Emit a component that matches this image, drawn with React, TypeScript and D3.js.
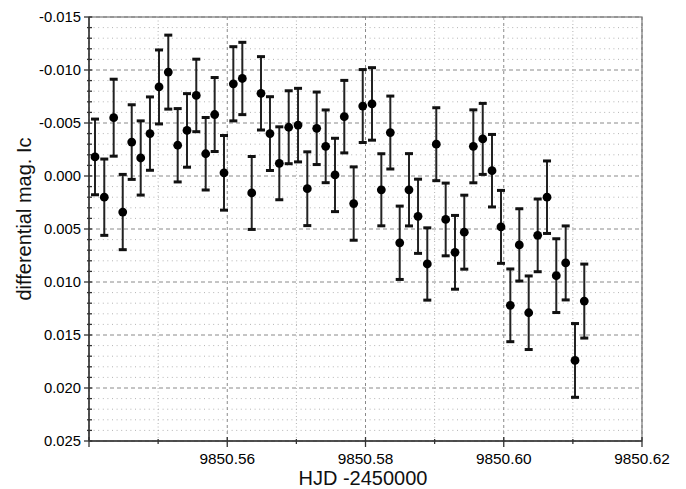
import React from 'react';
import * as d3 from 'd3';

// HJD - 2450000
const hjd = [
  9850.54087, 9850.54221, 9850.54357, 9850.54488, 9850.54618, 9850.54748, 9850.54882, 9850.55013,
  9850.55147, 9850.55283, 9850.55418, 9850.55552, 9850.55688, 9850.55818, 9850.55953, 9850.56088,
  9850.56218, 9850.56354, 9850.56488, 9850.56618, 9850.56753, 9850.56889, 9850.57024, 9850.57158,
  9850.57294, 9850.57424, 9850.57559, 9850.57693, 9850.57829, 9850.5796, 9850.58094, 9850.58229,
  9850.58359, 9850.58495, 9850.58629, 9850.5876, 9850.58894, 9850.59024, 9850.5916, 9850.59295,
  9850.59429, 9850.5956, 9850.59696, 9850.5983, 9850.5996, 9850.60095, 9850.60225, 9850.60361,
  9850.60491, 9850.60626, 9850.6076, 9850.60896, 9850.61031, 9850.61165,
];

// differential magnitude Ic
const mag = [
  -0.0018, 0.002, -0.0055, 0.0034, -0.0032, -0.0017, -0.004, -0.0084,
  -0.0098, -0.0029, -0.0043, -0.0076, -0.0021, -0.0058, -0.0003, -0.0087,
  -0.0092, 0.0016, -0.0078, -0.004, -0.0012, -0.0046, -0.0048, 0.0012,
  -0.0045, -0.0028, -0.0001, -0.0056, 0.0026, -0.0066, -0.0068, 0.0013,
  -0.0041, 0.0063, 0.0013, 0.0038, 0.0083, -0.003, 0.0041, 0.0072,
  0.0053, -0.0028, -0.0035, -0.0005, 0.0048, 0.0122, 0.0065, 0.0129,
  0.0056, 0.002, 0.0094, 0.0082, 0.0174, 0.0118,
];

const magErr = [
  0.00357, 0.0036, 0.00363, 0.00355, 0.00352, 0.0035, 0.00346, 0.00349,
  0.00349, 0.00346, 0.00347, 0.00342, 0.00342, 0.00349, 0.00352, 0.0035,
  0.00341, 0.00344, 0.00346, 0.00348, 0.00344, 0.00344, 0.00347, 0.00348,
  0.00342, 0.00343, 0.00346, 0.00342, 0.00346, 0.00344, 0.00342, 0.0034,
  0.00344, 0.00346, 0.00341, 0.0035, 0.00341, 0.00344, 0.00343, 0.00348,
  0.00349, 0.00344, 0.00335, 0.00342, 0.00344, 0.00343, 0.00341, 0.00347,
  0.00343, 0.00342, 0.00348, 0.00349, 0.00348, 0.00349,
];

const xDomain = [9850.54, 9850.62];
const yDomain = [-0.015, 0.025];
const xLabel = 'HJD -2450000';
const yLabel = 'differential mag. Ic';

const W = 686, H = 489;
const left = 89, right = 642, top = 17, bottom = 441;
const font = '"Liberation Sans", Arial, Helvetica, sans-serif';

export default function App() {
  const x = d3.scaleLinear().domain(xDomain).range([left, right]);
  const y = d3.scaleLinear().domain(yDomain).range([top, bottom]);

  const yMajor = y.ticks(8);
  const yMinor = y.ticks(40).filter((t) => !yMajor.some((m) => Math.abs(m - t) < 1e-9));
  const xMajor = x.ticks(4);
  const xMinor = x.ticks(8).filter((t) => !xMajor.some((m) => Math.abs(m - t) < 1e-9));

  return (
    <svg width={W} height={H} style={{ position: 'absolute', left: 0, top: 0 }} fontFamily={font}>
      <rect x={0} y={0} width={W} height={H} fill="#fff" />

      {/* grid */}
      {yMinor.map((t, i) => (
        <line key={'ym' + i} x1={left} x2={right} y1={y(t)} y2={y(t)} stroke="#b4b4b4" strokeWidth={1} strokeDasharray="1,3.6" />
      ))}
      {yMajor.map((t, i) => (
        <line key={'yM' + i} x1={left} x2={right} y1={y(t)} y2={y(t)} stroke="#8a8a8a" strokeWidth={1} strokeDasharray="4,3" />
      ))}
      {xMinor.map((t, i) => (
        <line key={'xm' + i} x1={x(t)} x2={x(t)} y1={top} y2={bottom} stroke="#b4b4b4" strokeWidth={1} strokeDasharray="1,2.5" />
      ))}
      {xMajor.map((t, i) => (
        <line key={'xM' + i} x1={x(t)} x2={x(t)} y1={top} y2={bottom} stroke="#8a8a8a" strokeWidth={1} strokeDasharray="3,3" />
      ))}

      {/* frame */}
      <rect x={left} y={top} width={right - left} height={bottom - top} fill="none" stroke="#777" strokeWidth={1.2} />
      <line x1={left} x2={left} y1={top} y2={bottom} stroke="#333" strokeWidth={1.5} />
      <line x1={left} x2={right} y1={bottom} y2={bottom} stroke="#333" strokeWidth={1.5} />

      {/* y ticks */}
      {yMinor.map((t, i) => (
        <line key={'yt' + i} x1={left - 2} x2={left + 3} y1={y(t)} y2={y(t)} stroke="#333" strokeWidth={1.3} />
      ))}
      {yMajor.map((t, i) => (
        <g key={'yT' + i}>
          <line x1={left - 5} x2={left + 3} y1={y(t)} y2={y(t)} stroke="#333" strokeWidth={1.3} />
          <text x={81} y={y(t) + 5} textAnchor="end" fontSize={14.8} fill="#000">
            {t.toFixed(3)}
          </text>
        </g>
      ))}

      {/* x ticks */}
      {xMinor.map((t, i) => (
        <line key={'xt' + i} x1={x(t)} x2={x(t)} y1={bottom - 2} y2={bottom + 3} stroke="#333" strokeWidth={1.3} />
      ))}
      {xMajor.map((t, i) => (
        <g key={'xT' + i}>
          <line x1={x(t)} x2={x(t)} y1={bottom - 4} y2={bottom + 6} stroke="#333" strokeWidth={1.3} />
          {i > 0 && (
            <text x={x(t)} y={463.5} textAnchor="middle" fontSize={15.4} fill="#000">
              {t.toFixed(2)}
            </text>
          )}
        </g>
      ))}

      {/* error bars and points */}
      {hjd.map((t, i) => {
        const cx = x(t);
        const y0 = y(mag[i] - magErr[i]);
        const y1 = y(mag[i] + magErr[i]);
        return (
          <g key={'p' + i}>
            <line x1={cx} x2={cx} y1={y0} y2={y1} stroke="#222" strokeWidth={2} />
            <rect x={cx - 4} y={y0 - 1.5} width={8} height={3} fill="#111" />
            <rect x={cx - 4} y={y1 - 1.5} width={8} height={3} fill="#111" />
            <circle cx={cx} cy={y(mag[i])} r={4.4} fill="#000" />
          </g>
        );
      })}

      {/* axis titles */}
      <text x={363} y={485} textAnchor="middle" fontSize={20} fill="#111">
        {xLabel}
      </text>
      <text transform={`translate(30.5, 219) rotate(-90)`} textAnchor="middle" fontSize={20} fill="#111">
        {yLabel}
      </text>
    </svg>
  );
}
